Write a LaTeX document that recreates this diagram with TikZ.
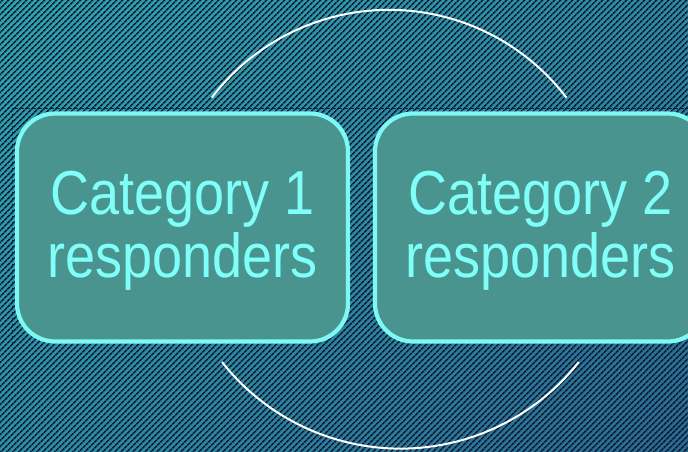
\documentclass[tikz,border=0pt]{standalone}
\usepackage{fontspec}
\setmainfont{Liberation Sans}
\usepackage{graphicx}
\usetikzlibrary{patterns.meta, shadings}

\definecolor{bgteal}{HTML}{2EA4AE}
\definecolor{bgblue}{HTML}{2C6890}
\definecolor{stripe}{HTML}{0B1B36}
\definecolor{boxfill}{HTML}{4A9490}
\definecolor{boxline}{HTML}{7EF8F2}
\definecolor{boxtext}{HTML}{80FFF8}

\newcommand{\twolines}[2]{\raisebox{-6pt}[\height][\depth]{\scalebox{1}[1.15]{\begin{tabular}{@{}c@{}}#1\\#2\end{tabular}}}}

\begin{document}
\begin{tikzpicture}[x=1pt, y=-1pt,
    catbox/.style={rectangle, rounded corners=38pt, draw=boxline, line width=4.2pt,
      fill=boxfill, minimum width=331pt, minimum height=228pt, inner sep=0pt,
      text=boxtext, font=\fontsize{54}{51.5}\selectfont},
    ring/.style={white, line width=2pt}]
     \useasboundingbox (0,0) rectangle (688,452);
     \clip (0,0) rectangle (688,452);

     % background
     \shade[upper left=bgteal, upper right=bgteal!55!bgblue, lower left=bgteal!65!bgblue,
       lower right=bgblue] (0,0) rectangle (688,452);
     \fill[pattern={Lines[angle=45, distance=4pt, line width=1.7pt]}, pattern color=stripe]
       (0,0) rectangle (688,452);
     \draw[stripe, dashed, line width=0.6pt] (12,345) -- (12,108) -- (688,108);

     % ring
     \coordinate (ringTop) at (211.7,97.7);
     \coordinate (ringBot) at (222,362);
     \draw[ring] (ringTop) arc[start angle=217.3, end angle=322.7, radius=223];
     \draw[ring] (ringBot) arc[start angle=141.8, end angle=38.2, radius=227];

     \node[catbox] (cat1) at (182.5,227.5) {\twolines{Category 1}{responders}};
     \node[catbox] (cat2) at (540.5,227.5) {\twolines{Category 2}{responders}};
 \end{tikzpicture}
\end{document}
